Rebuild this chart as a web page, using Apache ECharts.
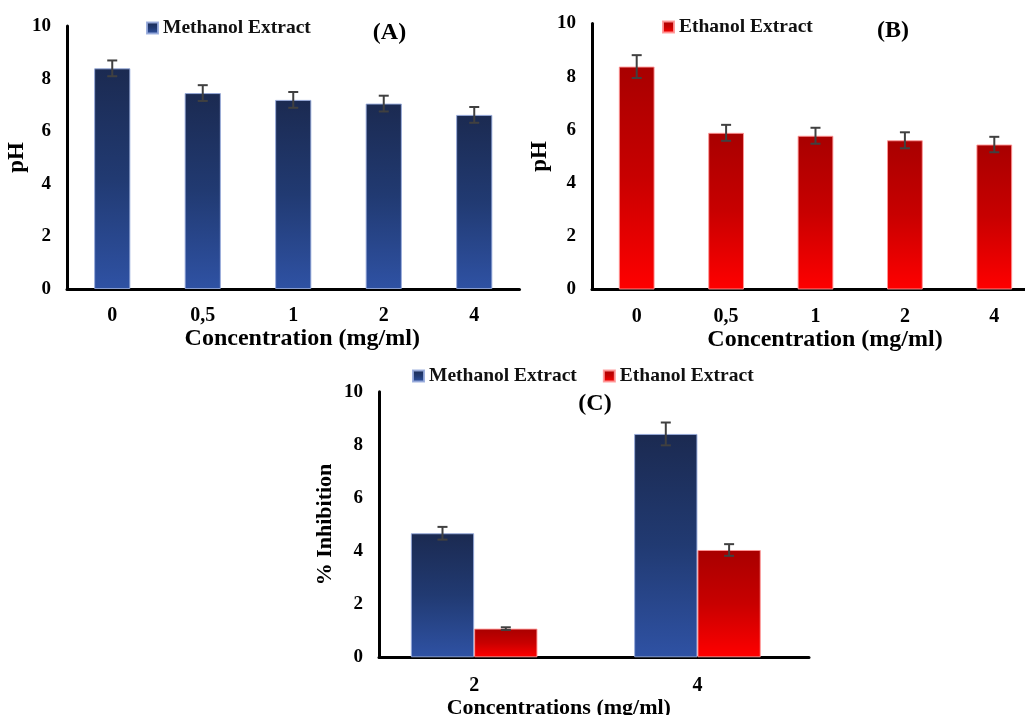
<!DOCTYPE html>
<html>
<head>
<meta charset="utf-8">
<script src="https://cdn.jsdelivr.net/npm/echarts@6/dist/echarts.min.js"></script>
<style>
html,body{margin:0;padding:0;background:#fff;}
#chart{width:1025px;height:715px;}
</style>
</head>
<body>
<div id="chart"></div>
<script>
// ---- data ----
const categoriesAB = ['0', '0,5', '1', '2', '4'];
const methanolPH = [8.39, 7.45, 7.19, 7.05, 6.62];
const methanolPHErr = [0.30, 0.30, 0.30, 0.30, 0.30];
const ethanolPH = [8.38, 5.89, 5.78, 5.61, 5.45];
const ethanolPHErr = [0.43, 0.30, 0.30, 0.30, 0.29];
const categoriesC = ['2', '4'];
const methanolInhib = [4.67, 8.41];
const methanolInhibErr = [0.24, 0.43];
const ethanolInhib = [1.08, 4.04];
const ethanolInhibErr = [0.05, 0.22];
const yMin = 0, yMax = 10, yStep = 2;

// ---- styles ----
const FONT = '"Liberation Serif", "Times New Roman", serif';
const blueGrad = new echarts.graphic.LinearGradient(0, 0, 0, 1, [
  {offset: 0, color: '#1b2a51'}, {offset: 0.5, color: '#213a72'}, {offset: 1, color: '#2f52a4'}]);
const redGrad = new echarts.graphic.LinearGradient(0, 0, 0, 1, [
  {offset: 0, color: '#a80000'}, {offset: 0.5, color: '#c80000'}, {offset: 1, color: '#ff0000'}]);

function errSeries(vals, errs, xi, yi, offFrac) {
  return {
    type: 'custom', xAxisIndex: xi, yAxisIndex: yi, z: 10, silent: true,
    encode: {x: 0, y: 1},
    data: vals.map((v, i) => [i, v, errs[i]]),
    renderItem: function (params, api) {
      const i = api.value(0), v = api.value(1), e = api.value(2);
      const band = api.size([1, 0])[0];
      const x = api.coord([i, v])[0] + offFrac * band;
      const yt = api.coord([i, v + e])[1];
      const yb = api.coord([i, v - e])[1];
      const st = {stroke: '#404040', lineWidth: 2};
      return {type: 'group', children: [
        {type: 'line', shape: {x1: x, y1: yt, x2: x, y2: yb}, style: st},
        {type: 'line', shape: {x1: x - 5, y1: yt, x2: x + 5, y2: yt}, style: st},
        {type: 'line', shape: {x1: x - 5, y1: yb, x2: x + 5, y2: yb}, style: st}
      ]};
    }
  };
}

const axisLineStyle = {show: true, lineStyle: {color: '#000', width: 3}};
const tickLabel = {color: '#000', fontFamily: FONT, fontWeight: 'bold', fontSize: 20};

function catAxis(grid, data, name, gap, pad) {
  return {
    type: 'category', gridIndex: grid, data: data,
    axisLine: axisLineStyle, axisTick: {show: false},
    axisLabel: Object.assign({margin: 17}, tickLabel),
    name: name, nameLocation: 'middle', nameGap: gap,
    nameTextStyle: {color: '#000', fontFamily: FONT, fontWeight: 'bold', fontSize: 24, padding: pad}
  };
}
function valAxis(grid, name, gap, fs) {
  return {
    type: 'value', gridIndex: grid, min: yMin, max: yMax, interval: yStep,
    axisLine: axisLineStyle, axisTick: {show: false}, splitLine: {show: false},
    axisLabel: Object.assign({margin: 16}, tickLabel, {fontSize: 19}),
    name: name, nameLocation: 'middle', nameGap: gap,
    nameTextStyle: {color: '#000', fontFamily: FONT, fontWeight: 'bold', fontSize: fs}
  };
}

const legendText = {color: '#111', fontFamily: FONT, fontWeight: 'bold', fontSize: 19.5};

const option = {
  animation: false,
  backgroundColor: '#fff',
  grid: [
    {left: 67, top: 26, width: 452.5, height: 263, outerBoundsMode: 'none', containLabel: false},
    {left: 592, top: 23.5, width: 447, height: 266, outerBoundsMode: 'none', containLabel: false},
    {left: 379, top: 391.7, width: 430, height: 265.6, outerBoundsMode: 'none', containLabel: false},
    {left: 362.5, top: 391.7, width: 446.6, height: 265.6, outerBoundsMode: 'none', containLabel: false}
  ],
  legend: [
    {data: ['Methanol Extract'], left: 146, top: 18, padding: 0, icon: 'rect', itemWidth: 11, itemHeight: 11, itemGap: 26, textStyle: legendText, selectedMode: false},
    {data: ['Ethanol Extract'], left: 662, top: 17, padding: 0, icon: 'rect', itemWidth: 11, itemHeight: 11, itemGap: 26, textStyle: legendText, selectedMode: false},
    {data: ['Methanol Extract', 'Ethanol Extract'], left: 412, top: 366, padding: 0, icon: 'rect', itemWidth: 11, itemHeight: 11, itemGap: 26, textStyle: legendText, selectedMode: false}
  ],
  xAxis: [
    catAxis(0, categoriesAB, 'Concentration (mg/ml)', 36, [0, 0, 0, 18]),
    catAxis(1, categoriesAB, 'Concentration (mg/ml)', 36, [0, 0, 0, 19]),
    {type: 'value', gridIndex: 2, min: 0, max: 1, axisLine: axisLineStyle, axisTick: {show: false},
     axisLabel: {show: false}, splitLine: {show: false}},
    Object.assign(catAxis(3, categoriesC, 'Concentrations (mg/ml)', 38, [0, 54, 0, 0]),
      {axisLine: {show: false}, axisLabel: Object.assign({margin: 19}, tickLabel),
       nameTextStyle: {color: '#000', fontFamily: FONT, fontWeight: 'bold', fontSize: 22, padding: [0, 54, 0, 0]}})
  ],
  yAxis: [
    valAxis(0, 'pH', 28, 23),
    valAxis(1, 'pH', 40, 23),
    valAxis(2, '% Inhibition', 43, 22),
    {type: 'value', gridIndex: 3, min: yMin, max: yMax, show: false}
  ],
  series: [
    {type: 'bar', name: 'Methanol Extract', xAxisIndex: 0, yAxisIndex: 0, data: methanolPH, barWidth: '40%',
     itemStyle: {color: blueGrad, borderColor: 'rgba(150,170,220,0.9)', borderWidth: 1}},
    errSeries(methanolPH, methanolPHErr, 0, 0, 0),
    {type: 'bar', name: 'Ethanol Extract', xAxisIndex: 1, yAxisIndex: 1, data: ethanolPH, barWidth: '40%',
     itemStyle: {color: redGrad, borderColor: 'rgba(255,150,150,0.9)', borderWidth: 1}},
    errSeries(ethanolPH, ethanolPHErr, 1, 1, 0),
    {type: 'bar', name: 'Methanol Extract', xAxisIndex: 3, yAxisIndex: 3, data: methanolInhib, barWidth: '28.35%', barGap: '0%',
     itemStyle: {color: blueGrad, borderColor: 'rgba(150,170,220,0.9)', borderWidth: 1}},
    {type: 'bar', name: 'Ethanol Extract', xAxisIndex: 3, yAxisIndex: 3, data: ethanolInhib, barWidth: '28.35%', barGap: '0%',
     itemStyle: {color: redGrad, borderColor: 'rgba(255,150,150,0.9)', borderWidth: 1}},
    errSeries(methanolInhib, methanolInhibErr, 3, 3, -0.14175),
    errSeries(ethanolInhib, ethanolInhibErr, 3, 3, 0.14175)
  ],
  graphic: [
    {type: 'text', x: 389.5, y: 32.5, style: {text: '(A)', fill: '#000', font: 'bold 24px ' + FONT, textAlign: 'center', textVerticalAlign: 'middle'}},
    {type: 'text', x: 893, y: 31, style: {text: '(B)', fill: '#000', font: 'bold 24px ' + FONT, textAlign: 'center', textVerticalAlign: 'middle'}},
    {type: 'text', x: 595, y: 404, style: {text: '(C)', fill: '#000', font: 'bold 24px ' + FONT, textAlign: 'center', textVerticalAlign: 'middle'}}
  ]
};

const chart = echarts.init(document.getElementById('chart'), null, {renderer: 'canvas'});
chart.setOption(option);
</script>
</body>
</html>
